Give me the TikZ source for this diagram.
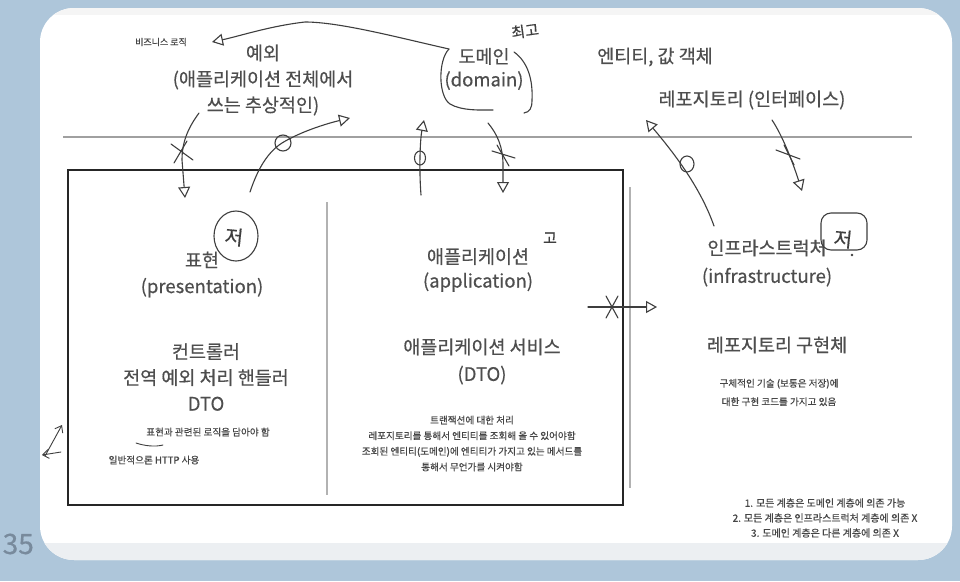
\documentclass[tikz,border=0pt]{standalone}
\usepackage{fontspec}
\setmainfont{Noto Sans CJK KR}[FakeBold=0.45]
\usetikzlibrary{arrows.meta}
\definecolor{bgblue}{RGB}{174,198,218}
\definecolor{txt}{RGB}{78,78,78}
\definecolor{smalltxt}{RGB}{70,70,70}
\definecolor{pen}{RGB}{62,62,62}
\definecolor{rule}{RGB}{160,160,160}
\definecolor{band}{RGB}{236,239,242}
\definecolor{pagenum}{RGB}{120,138,156}
\begin{document}
\begin{tikzpicture}[x=1pt,y=-1pt,
  big/.style={font=\fontsize{18.5}{26}\selectfont, text=txt, align=center, inner sep=0pt},
  small/.style={font=\fontsize{9.6}{15.6}\selectfont, text=smalltxt, align=center, inner sep=0pt},
  handtxt/.style={font=\fontsize{17}{17}\selectfont, text=pen, inner sep=0pt},
  hand/.style={draw=pen, line width=1.1pt, line cap=round, line join=round},
  tri/.style={-{Triangle[open,length=11pt,width=12pt,line width=1.1pt]}},
  barb/.style={-{Straight Barb[length=6pt,width=9pt]}}
]
\useasboundingbox (0,0) rectangle (960,581);
% background
\fill[bgblue] (0,0) rectangle (960,581);
\fill[white,rounded corners=34pt] (40,8) rectangle (952,560);
\begin{scope}
  \clip[rounded corners=34pt] (40,8) rectangle (952,560);
  \fill[band] (0,543) rectangle (960,581);
  \fill[black!4] (0,8) rectangle (960,15);
\end{scope}
\node[anchor=east, font=\fontsize{28}{28}\selectfont, text=pagenum, inner sep=0pt] (pg) at (34,544) {35};

% rules and boxes
\draw[rule, line width=1.5pt] (63,137) coordinate (hl0) -- (912,137) coordinate (hl1);
\draw[black!85, line width=2.4pt] (68,170) rectangle (623,505);
\draw[black!30, line width=1.4pt] (327,202) coordinate (d0) -- (327,495) coordinate (d1);
\draw[black!30, line width=1.4pt] (630,187) coordinate (e0) -- (630,488) coordinate (e1);

% texts
\node[small, font=\fontsize{9}{9}\selectfont] (biz) at (161,42) {비즈니스 로직};
\node[big] (exc) at (263,80) {예외\\(애플리케이션 전체에서\\쓰는 추상적인)};
\node[big, font=\fontsize{18.5}{23}\selectfont] (dom) at (484,69) {도메인\\(domain)};
\node[big] (ent) at (655,57) {엔티티, 값 객체};
\node[big] (repoi) at (752,100) {레포지토리 (인터페이스)};

\node[big] (pres) at (202,274.5) {표현\\(presentation)};
\node[big] (ctrl) at (206,377) {컨트롤러\\전역 예외 처리 핸들러\\DTO};
\node[small] (presd) at (208,432) {표현과 관련된 로직을 담아야 함};
\node[small] (http) at (154,460) {일반적으론 HTTP 사용};

\node[big, font=\fontsize{18.5}{24}\selectfont] (app) at (478,270) {애플리케이션\\(application)};
\node[big, font=\fontsize{18.5}{27}\selectfont] (svc) at (482,361.5) {애플리케이션 서비스\\(DTO)};
\node[small] (appd) at (472,443.5) {트랜잭션에 대한 처리\\레포지토리를 통해서 엔티티를 조회해 올 수 있어야함\\조회된 엔티티(도메인)에 엔티티가 가지고 있는 메서드를\\통해서 무언가를 시켜야함};

\node[big, font=\fontsize{18.5}{28}\selectfont] (infra) at (767,263) {인프라스트럭처\\(infrastructure)};
\node[big] (repoimpl) at (777,345) {레포지토리 구현체};
\node[small, font=\fontsize{9.6}{18.5}\selectfont] (infrad) at (779,392.5) {구체적인 기술 (보통은 저장)에\\대한 구현 코드를 가지고 있음};

\node[small, font=\fontsize{10}{15}\selectfont] (rules) at (825,518) {1. 모든 계층은 도메인 계층에 의존 가능\\2. 모든 계층은 인프라스트럭처 계층에 의존 X\\3. 도메인 계층은 다른 계층에 의존 X};

% handwritten marks
\node[handtxt, font=\fontsize{15}{15}\selectfont, rotate=8] (hi) at (525,31) {최고};
\node[handtxt, font=\fontsize{15}{15}\selectfont] (go) at (550,238) {고};
\node[handtxt, font=\fontsize{20}{20}\selectfont, rotate=-6] (lo1) at (234,237) {저};
\draw[hand] (236,236) ellipse [x radius=22, y radius=25];
\node[handtxt, font=\fontsize{20}{20}\selectfont, rotate=-6] (lo2) at (843,239) {저};
\draw[hand, rounded corners=10pt] (821,213) rectangle (867,250);
\fill[pen] (852,255) circle (1.3);

% domain hand loop and arrow to business logic
\coordinate (dl) at (449,49);
\coordinate (bl) at (212,42);
\draw[hand, tri] (dl) .. controls (400,38) and (340,22) .. (305,22) .. controls (270,26) and (240,36) .. (bl);
\draw[hand] (dl) .. controls (438,60) and (438,96) .. (450,104) .. controls (462,111) and (480,110) .. (493,110);
\draw[hand] (514,52) .. controls (528,62) and (533,80) .. (532,100) .. controls (532,108) and (530,112) .. (524,113);

% arrow 1: exception -> presentation (X)
\coordinate (a1s) at (199,113);
\coordinate (a1e) at (185,198);
\draw[hand, tri] (a1s) .. controls (188,128) and (182,142) .. (182,160) -- (a1e);
\draw[hand] (182,152) ++(-11,-8) -- ++(22,16) (182,152) ++(5,-11) -- ++(-13,22);

% arrow 2: presentation -> up (O)
\coordinate (a2s) at (250,192);
\coordinate (a2e) at (350,118);
\draw[hand, tri] (a2s) .. controls (258,168) and (268,152) .. (282,143) .. controls (300,132) and (325,124) .. (a2e);
\draw[hand] (283,143) circle (8);

% arrow 3: application -> domain (O)
\coordinate (a3s) at (421,195);
\coordinate (a3e) at (424,120);
\draw[hand, tri] (a3s) .. controls (419,170) and (420,140) .. (a3e);
\draw[hand] (420,158) ellipse [x radius=5.5, y radius=7];

% arrow 4: domain -> application (X)
\coordinate (a4s) at (488,123);
\coordinate (a4e) at (503,193);
\draw[hand, tri] (a4s) .. controls (498,135) and (503,148) .. (503,165) -- (a4e);
\draw[hand] (503,155) ++(-11,-4) -- ++(23,7) (503,155) ++(-6,-10) -- ++(12,21);

% arrow 5: infrastructure -> repository interface (O)
\coordinate (a5s) at (714,226);
\coordinate (a5e) at (646,120);
\draw[hand, tri] (a5s) .. controls (702,192) and (680,160) .. (a5e);
\draw[hand] (687,164) ellipse [x radius=7, y radius=8];

% arrow 6: repository interface -> infrastructure (X)
\coordinate (a6s) at (772,120);
\coordinate (a6e) at (802,191);
\draw[hand, tri] (a6s) .. controls (782,135) and (792,160) .. (a6e);
\draw[hand] (789,155) ++(-13,-5) -- ++(24,9) (789,155) ++(-5,-10) -- ++(10,20);

% arrow 7: application -> infrastructure (X)
\coordinate (a7s) at (588,307);
\coordinate (a7e) at (657,307);
\draw[hand, tri] (a7s) -- (a7e);
\draw[hand] (612,307) ++(-6,-11) -- ++(12,22) (612,307) ++(6,-11) -- ++(-12,22);

% underline under 표현
\draw[hand, line width=0.9pt] (136,443) .. controls (145,446) and (155,447) .. (163,445);

% left arrows
\coordinate (l1s) at (45,456);
\coordinate (l1e) at (62,425);
\draw[hand, line width=0.9pt, barb] (l1s) -- (l1e);
\coordinate (l2s) at (61,452);
\coordinate (l2e) at (42,455);
\draw[hand, line width=0.9pt, barb] (l2s) -- (l2e);
\end{tikzpicture}
\end{document}
